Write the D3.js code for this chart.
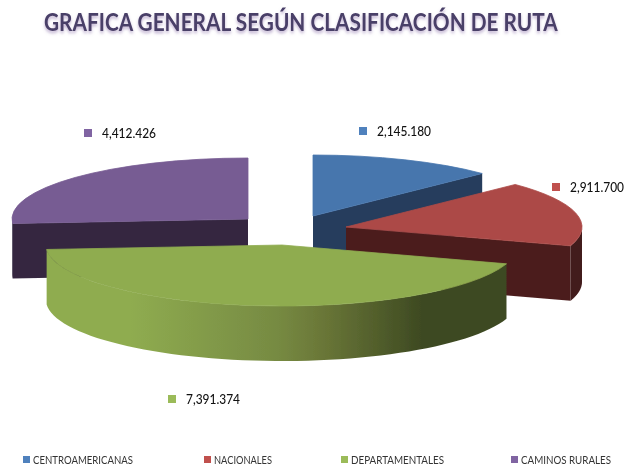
<!DOCTYPE html>
<html>
<head>
<meta charset="utf-8">
<script src="https://cdn.jsdelivr.net/npm/d3@7/dist/d3.min.js"></script>
<style>html,body{margin:0;padding:0;background:#fff}svg{display:block}</style>
</head>
<body>
<svg id="chart" width="626" height="470"></svg>
<script>
const categories = ["CENTROAMERICANAS", "NACIONALES", "DEPARTAMENTALES", "CAMINOS RURALES"];
const values = [2145180, 2911700, 7391374, 4412426];
const valueLabels = ["2,145.180", "2,911.700", "7,391.374", "4,412.426"];
const topColors = ["#4776ad", "#ac4a47", "#8fac50", "#775c93"];
const wallColors = ["#253c5d", "#4c1e1e", "#3e4a22", "#352840"];
const legendColors = ["#4f81bd", "#c0504d", "#9bbb59", "#8064a2"];
const explodedCenters = [[313, 216], [346, 227], [282, 245], [248, 219]];
const labelAnchors = [[359, 127], [552, 183], [168, 395], [84, 129]];
const legendAnchors = [[23, 456], [204, 456], [341, 456], [511, 456]];
const title = "GRAFICA GENERAL SEGÚN CLASIFICACIÓN DE RUTA";

const rx = 236, ry = 61, depth = 55;
const svg = d3.select("#chart");
const defs = svg.append("defs");

const shadow = defs.append("filter").attr("id", "titleShadow")
  .attr("x", "-3%").attr("y", "-20%").attr("width", "106%").attr("height", "160%");
shadow.append("feDropShadow").attr("dx", 0).attr("dy", 2).attr("stdDeviation", 1.6)
  .attr("flood-color", "#8064a2").attr("flood-opacity", 0.5);

const soft = defs.append("filter").attr("id", "soft");
soft.append("feGaussianBlur").attr("stdDeviation", 0.35);

const grad = defs.append("linearGradient").attr("id", "greenWall")
  .attr("gradientUnits", "userSpaceOnUse").attr("x1", 47).attr("x2", 509).attr("y1", 0).attr("y2", 0);
[[0, "#8fac50"], [0.18, "#8fac50"], [0.5, "#768a42"], [0.59, "#6b7838"], [0.81, "#3e4a22"], [1, "#3e4a22"]]
  .forEach(([o, c]) => grad.append("stop").attr("offset", o).attr("stop-color", c));

const pie = d3.pie().sort(null).value(d => d);
const arcs = pie(values);
const arcGen = d3.arc().innerRadius(0).outerRadius(rx);
const ptLine = d3.line();

function rimPoint(i, a) {
  const [cx, cy] = explodedCenters[i];
  return [cx + rx * Math.sin(a), cy - ry * Math.cos(a)];
}
function wallArc(i, a0, a1) {
  const n = 60;
  const top = d3.range(n + 1).map(k => rimPoint(i, a0 + (a1 - a0) * k / n));
  const bottom = top.slice().reverse().map(([x, y]) => [x, y + depth]);
  return ptLine(top.concat(bottom)) + "Z";
}
function wallCut(i, a) {
  const c = explodedCenters[i], r = rimPoint(i, a);
  return ptLine([c, r, [r[0], r[1] + depth], [c[0], c[1] + depth]]) + "Z";
}

const plot = svg.append("g").attr("filter", "url(#soft)");
// Painter's order: back slices first, the large front slice last.
[3, 0, 1, 2].forEach(i => {
  const d = arcs[i];
  const g = plot.append("g");
  // visible cut faces
  if (i === 0) g.append("path").attr("d", wallCut(i, d.endAngle)).attr("fill", wallColors[i]);
  if (i === 1) {
    g.append("path").attr("d", wallCut(i, d.endAngle)).attr("fill", wallColors[i]);
    g.append("path").attr("d", wallArc(i, Math.PI / 2, d.endAngle)).attr("fill", "#431b1b");
  }
  if (i === 3) g.append("path").attr("d", wallCut(i, d.startAngle)).attr("fill", wallColors[i]);
  // outer rim
  if (i === 2) g.append("path").attr("d", wallArc(i, d.startAngle, d.endAngle)).attr("fill", "url(#greenWall)");
  if (i === 3) g.append("path").attr("d", wallArc(i, d.startAngle, 1.5 * Math.PI)).attr("fill", wallColors[i]);
  // top face; the thin same-colour stroke closes the anti-aliasing seam against the rim
  g.append("path")
    .attr("d", arcGen(d))
    .attr("transform", `translate(${explodedCenters[i][0]},${explodedCenters[i][1]}) scale(1,${ry / rx})`)
    .attr("fill", topColors[i])
    .attr("stroke", topColors[i])
    .attr("stroke-width", 0.8)
    .attr("vector-effect", "non-scaling-stroke");
});

// Title: natural width at this size spans the reference's title; stretched vertically to its cap height.
const titleText = svg.append("text").text(title)
  .attr("transform", "translate(44,31) scale(1,1.15)")
  .attr("font-family", "Lato, 'Open Sans', sans-serif")
  .attr("font-weight", 700).attr("font-size", 20.8)
  .attr("fill", "#4a3f68").attr("filter", "url(#titleShadow)");
const natural = titleText.node().getComputedTextLength();
titleText.attr("font-size", 20.8 * 514 / natural);

valueLabels.forEach((t, i) => {
  const [x, y] = labelAnchors[i];
  svg.append("rect").attr("x", x).attr("y", y).attr("width", 8).attr("height", 8).attr("fill", legendColors[i]);
  svg.append("text").text(t).attr("x", x + 18).attr("y", y + 9)
    .attr("font-family", "Lato, sans-serif").attr("font-size", 12.5).attr("font-weight", 500)
    .attr("textLength", 54).attr("lengthAdjust", "spacingAndGlyphs")
    .attr("fill", "#111");
});

const legendWidths = [100, 58, 93, 90];
categories.forEach((t, i) => {
  const [x, y] = legendAnchors[i];
  svg.append("rect").attr("x", x).attr("y", y).attr("width", 7).attr("height", 7).attr("fill", legendColors[i]);
  svg.append("text").text(t).attr("x", x + 10).attr("y", y + 8)
    .attr("font-family", "Lato, sans-serif").attr("font-size", 10.5)
    .attr("textLength", legendWidths[i]).attr("lengthAdjust", "spacingAndGlyphs")
    .attr("fill", "#333");
});
</script>
</body>
</html>
